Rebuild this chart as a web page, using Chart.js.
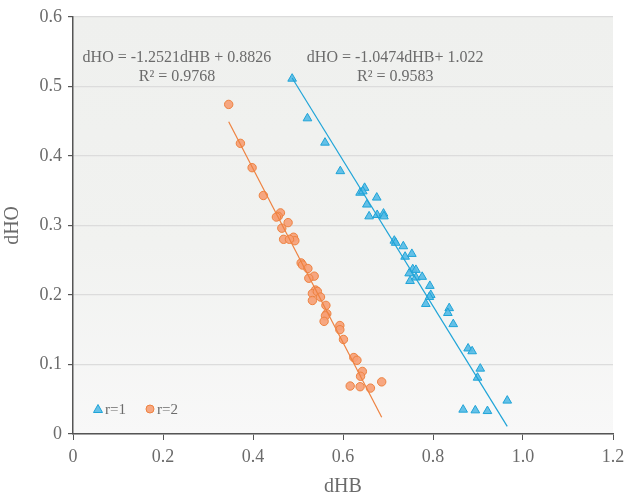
<!DOCTYPE html>
<html>
<head>
<meta charset="utf-8">
<script src="https://cdn.jsdelivr.net/npm/chart.js@4.4.0/dist/chart.umd.min.js"></script>
<style>
  html, body { margin: 0; padding: 0; background: #fff; }
  #wrap { width: 626px; height: 498px; }
</style>
</head>
<body>
<div id="wrap"><canvas id="dhChart"></canvas></div>
<script>
// r=1 (blue triangles)
const r1X = [0.487, 0.521, 0.560, 0.594, 0.638, 0.648, 0.644, 0.675, 0.653, 0.658, 0.676, 0.690, 0.691,
             0.714, 0.717, 0.734, 0.738, 0.753, 0.755, 0.762, 0.747, 0.749, 0.762, 0.776, 0.793, 0.795,
             0.792, 0.784, 0.836, 0.833, 0.845, 0.878, 0.887, 0.905, 0.899, 0.965, 0.867, 0.894, 0.921];
const r1Y = [0.511, 0.454, 0.419, 0.378, 0.347, 0.354, 0.349, 0.340, 0.330, 0.313, 0.315, 0.317, 0.313,
             0.278, 0.275, 0.270, 0.255, 0.259, 0.237, 0.236, 0.231, 0.220, 0.225, 0.226, 0.213, 0.200,
             0.197, 0.187, 0.181, 0.174, 0.158, 0.123, 0.119, 0.094, 0.081, 0.048, 0.035, 0.034, 0.033];

// r=2 (orange circles)
const r2X = [0.346, 0.372, 0.398, 0.423, 0.461, 0.456, 0.452, 0.478, 0.464, 0.468, 0.490, 0.493, 0.481,
             0.507, 0.510, 0.522, 0.536, 0.524, 0.539, 0.532, 0.543, 0.550, 0.532, 0.562, 0.564, 0.561,
             0.558, 0.593, 0.593, 0.601, 0.624, 0.631, 0.643, 0.639, 0.686, 0.616, 0.638, 0.661];
const r2Y = [0.474, 0.418, 0.383, 0.343, 0.318, 0.313, 0.312, 0.304, 0.296, 0.280, 0.283, 0.278, 0.280,
             0.246, 0.243, 0.238, 0.227, 0.224, 0.207, 0.202, 0.205, 0.197, 0.192, 0.185, 0.173, 0.170,
             0.162, 0.156, 0.150, 0.136, 0.110, 0.106, 0.090, 0.083, 0.075, 0.069, 0.068, 0.066];

// trendline end points
const fit1X = [0.487, 0.965];
const fit1Y = [0.512, 0.011];
const fit2X = [0.346, 0.686];
const fit2Y = [0.449, 0.024];

// equation labels (centre x, y of first line, y of second line)
const eqText = [
  ['dHO = -1.2521dHB + 0.8826', 'R\u00b2 = 0.9768'],
  ['dHO = -1.0474dHB+ 1.022', 'R\u00b2 = 0.9583']
];
const eqPos = [[0.231, 0.541, 0.514], [0.716, 0.541, 0.514]];

const legendLabels = ['r=1', 'r=2'];

const serif = "'Liberation Serif', 'Times New Roman', serif";
const grey = '#6b6b6b';
const blueFill = 'rgba(84, 186, 230, 0.9)';
const blueLine = '#1fa4d8';
const orangeFill = 'rgba(246, 160, 118, 0.92)';
const orangeLine = '#ee8240';

const toPts = (xs, ys) => xs.map((x, i) => ({ x: x, y: ys[i] }));

// plot area gradient
const bgPlugin = {
  id: 'plotBg',
  beforeDraw(chart) {
    const { ctx, chartArea: a } = chart;
    const g = ctx.createLinearGradient(0, a.top, 0, a.bottom);
    g.addColorStop(0, '#eff0ee');
    g.addColorStop(0.55, '#f1f2f0');
    g.addColorStop(1, '#f8f8f8');
    ctx.save();
    ctx.fillStyle = g;
    ctx.fillRect(a.left, a.top, a.right - a.left, a.bottom - a.top);
    ctx.restore();
  }
};

// equations + legend drawn inside the plot
const textPlugin = {
  id: 'extraText',
  afterDraw(chart) {
    const { ctx, chartArea: a, scales } = chart;
    ctx.save();
    ctx.fillStyle = grey;
    ctx.font = '16px ' + serif;
    ctx.textAlign = 'center';
    ctx.textBaseline = 'middle';
    eqText.forEach((lines, i) => {
      const cx = scales.x.getPixelForValue(eqPos[i][0]);
      ctx.fillText(lines[0], cx, scales.y.getPixelForValue(eqPos[i][1]));
      ctx.fillText(lines[1], cx, scales.y.getPixelForValue(eqPos[i][2]));
    });

    // legend
    const ly = a.bottom - 25;
    let lx = a.left + 25;
    ctx.font = '15px ' + serif;
    ctx.textAlign = 'left';
    // triangle
    ctx.beginPath();
    ctx.moveTo(lx, ly - 4.5);
    ctx.lineTo(lx + 4.5, ly + 3.5);
    ctx.lineTo(lx - 4.5, ly + 3.5);
    ctx.closePath();
    ctx.fillStyle = blueFill;
    ctx.strokeStyle = blueLine;
    ctx.fill();
    ctx.stroke();
    ctx.fillStyle = grey;
    ctx.fillText(legendLabels[0], lx + 7, ly + 1);
    // circle
    lx += 52;
    ctx.beginPath();
    ctx.arc(lx, ly, 4, 0, Math.PI * 2);
    ctx.fillStyle = orangeFill;
    ctx.strokeStyle = orangeLine;
    ctx.fill();
    ctx.stroke();
    ctx.fillStyle = grey;
    ctx.fillText(legendLabels[1], lx + 7, ly + 1);
    ctx.restore();
  }
};

const ctx = document.getElementById('dhChart').getContext('2d');
new Chart(ctx, {
  type: 'scatter',
  data: {
    datasets: [
      {
        label: 'fit r=1',
        type: 'line',
        data: toPts(fit1X, fit1Y),
        borderColor: blueLine,
        borderWidth: 1.2,
        pointRadius: 0,
        fill: false
      },
      {
        label: 'fit r=2',
        type: 'line',
        data: toPts(fit2X, fit2Y),
        borderColor: orangeLine,
        borderWidth: 1.2,
        pointRadius: 0,
        fill: false
      },
      {
        label: 'r=1',
        data: toPts(r1X, r1Y),
        pointStyle: 'triangle',
        pointRadius: 5,
        backgroundColor: blueFill,
        borderColor: blueLine,
        borderWidth: 1
      },
      {
        label: 'r=2',
        data: toPts(r2X, r2Y),
        pointStyle: 'circle',
        pointRadius: 4.2,
        backgroundColor: orangeFill,
        borderColor: orangeLine,
        borderWidth: 1
      }
    ]
  },
  options: {
    responsive: true,
    maintainAspectRatio: false,
    animation: false,
    layout: { padding: { top: 16, right: 13, left: 0, bottom: 0 } },
    plugins: {
      legend: { display: false },
      tooltip: { enabled: false }
    },
    scales: {
      x: {
        type: 'linear',
        min: 0,
        max: 1.2,
        afterFit: s => { s.height = 64; s.paddingRight = 0; s.paddingLeft = 0; },
        ticks: {
          stepSize: 0.2,
          color: grey,
          font: { family: serif, size: 18 },
          padding: 6,
          maxRotation: 0
        },
        grid: {
          drawOnChartArea: false,
          drawTicks: true,
          tickLength: 6,
          tickColor: '#555'
        },
        border: { color: '#555', width: 1.5 },
        title: {
          display: true,
          text: 'dHB',
          color: grey,
          font: { family: serif, size: 20, lineHeight: 1.1 },
          padding: { top: 0, bottom: 0 }
        }
      },
      y: {
        type: 'linear',
        min: 0,
        max: 0.6,
        afterFit: s => { s.width = 73; },
        ticks: {
          stepSize: 0.1,
          color: grey,
          font: { family: serif, size: 18 },
          padding: 6
        },
        grid: {
          color: '#dcdcdc',
          lineWidth: 1.2,
          drawTicks: true,
          tickLength: 5,
          tickColor: '#555'
        },
        border: { color: '#555', width: 1.5 },
        title: {
          display: true,
          text: 'dHO',
          color: grey,
          font: { family: serif, size: 20, lineHeight: 1.2 },
          padding: { top: 1, bottom: 0 }
        }
      }
    }
  },
  plugins: [bgPlugin, textPlugin]
});
</script>
</body>
</html>
